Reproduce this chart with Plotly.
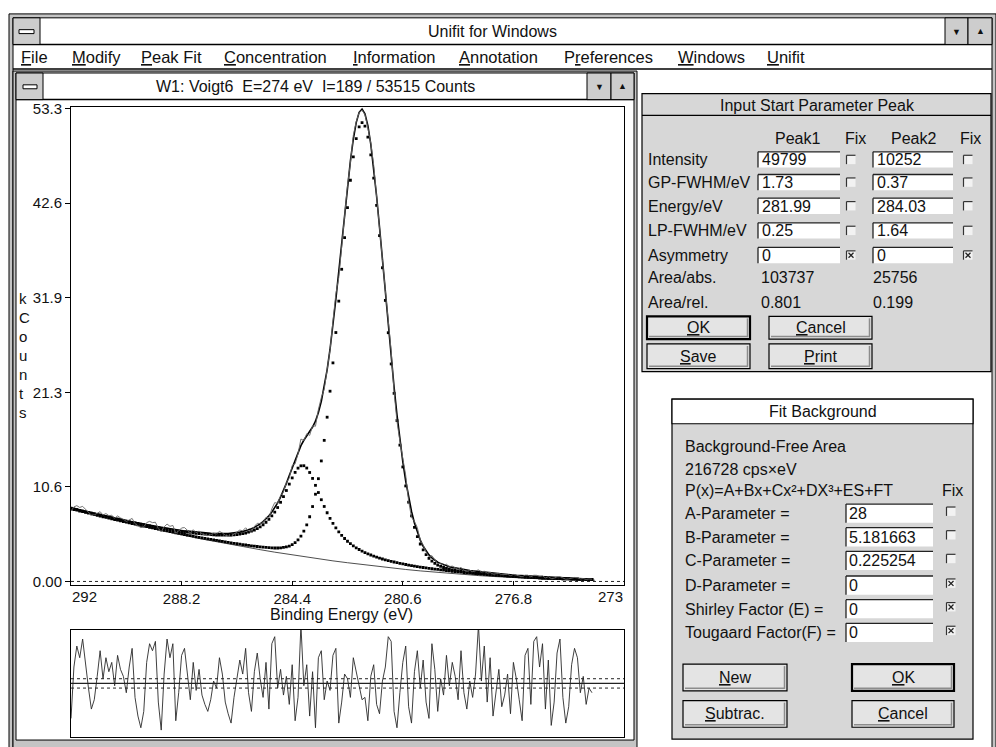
import plotly.graph_objects as go

W, H = 996, 747
FONT = "Liberation Sans"
DLG = "#d7d7d7"
BTN = "#e4e4e4"
CHROME = "#c4c4c4"

# ---------------- data (kcounts) ----------------
energy_ev = [
    292.0, 291.9, 291.8, 291.7, 291.6, 291.5, 291.4, 291.3, 291.2, 291.1,
    291.0, 290.9, 290.8, 290.7, 290.6, 290.5, 290.4, 290.3, 290.2, 290.1,
    290.0, 289.9, 289.8, 289.7, 289.6, 289.5, 289.4, 289.3, 289.2, 289.1,
    289.0, 288.9, 288.8, 288.7, 288.6, 288.5, 288.4, 288.3, 288.2, 288.1,
    288.0, 287.9, 287.8, 287.7, 287.6, 287.5, 287.4, 287.3, 287.2, 287.1,
    287.0, 286.9, 286.8, 286.7, 286.6, 286.5, 286.4, 286.3, 286.2, 286.1,
    286.0, 285.9, 285.8, 285.7, 285.6, 285.5, 285.4, 285.3, 285.2, 285.1,
    285.0, 284.9, 284.8, 284.7, 284.6, 284.5, 284.4, 284.3, 284.2, 284.1,
    284.0, 283.9, 283.8, 283.7, 283.6, 283.5, 283.4, 283.3, 283.2, 283.1,
    283.0, 282.9, 282.8, 282.7, 282.6, 282.5, 282.4, 282.3, 282.2, 282.1,
    282.0, 281.9, 281.8, 281.7, 281.6, 281.5, 281.4, 281.3, 281.2, 281.1,
    281.0, 280.9, 280.8, 280.7, 280.6, 280.5, 280.4, 280.3, 280.2, 280.1,
    280.0, 279.9, 279.8, 279.7, 279.6, 279.5, 279.4, 279.3, 279.2, 279.1,
    279.0, 278.9, 278.8, 278.7, 278.6, 278.5, 278.4, 278.3, 278.2, 278.1,
    278.0, 277.9, 277.8, 277.7, 277.6, 277.5, 277.4, 277.3, 277.2, 277.1,
    277.0, 276.9, 276.8, 276.7, 276.6, 276.5, 276.4, 276.3, 276.2, 276.1,
    276.0, 275.9, 275.8, 275.7, 275.6, 275.5, 275.4, 275.3, 275.2, 275.1,
    275.0, 274.9, 274.8, 274.7, 274.6, 274.5, 274.4, 274.3, 274.2, 274.1,
]

measured_kcounts = [
    7.93, 8.40, 8.54, 8.34, 8.46, 8.10, 7.77, 7.47, 7.50, 7.67,
    7.86, 7.49, 7.65, 7.42, 7.45, 7.13, 7.38, 7.16, 7.01, 6.76,
    6.97, 7.10, 6.51, 6.24, 6.06, 6.16, 6.63, 6.77, 6.63, 6.67,
    5.96, 5.60, 6.14, 6.47, 6.21, 6.31, 5.43, 5.68, 6.03, 6.07,
    5.77, 5.46, 5.83, 5.49, 5.68, 5.37, 5.26, 5.16, 5.26, 5.44,
    5.35, 5.64, 5.47, 5.21, 5.12, 5.05, 5.33, 5.55, 5.79, 5.71,
    6.05, 5.72, 5.67, 6.20, 6.55, 6.53, 6.61, 7.23, 7.15, 8.19,
    8.89, 8.80, 9.69, 10.09, 11.14, 11.66, 13.07, 13.25, 14.39, 16.05,
    15.88, 16.65, 16.46, 17.55, 17.49, 19.37, 20.71, 21.67, 23.88, 26.08,
    29.32, 32.40, 34.25, 37.87, 41.60, 44.63, 47.16, 50.28, 51.79, 52.84,
    53.12, 52.61, 51.12, 49.40, 46.90, 43.05, 39.40, 36.29, 32.79, 29.62,
    25.97, 21.42, 18.03, 15.82, 13.85, 11.96, 9.06, 7.21, 6.78, 6.07,
    4.63, 4.11, 3.30, 2.77, 2.91, 2.47, 1.99, 2.04, 1.80, 1.94,
    1.66, 1.73, 1.57, 1.35, 1.60, 1.27, 1.12, 1.26, 1.10, 1.21,
    1.30, 1.08, 1.15, 0.93, 1.04, 0.82, 0.87, 0.91, 0.76, 0.76,
    0.80, 0.65, 0.79, 0.71, 0.62, 0.52, 0.71, 0.71, 0.51, 0.70,
    0.69, 0.57, 0.63, 0.40, 0.54, 0.32, 0.37, 0.52, 0.54, 0.35,
    0.25, 0.29, 0.41, 0.45, 0.41, 0.29, 0.33, 0.23, 0.28, 0.25,
]

envelope_kcounts = [
    8.30, 8.22, 8.14, 8.06, 7.98, 7.90, 7.82, 7.74, 7.67, 7.59,
    7.51, 7.44, 7.37, 7.29, 7.22, 7.15, 7.08, 7.01, 6.93, 6.86,
    6.79, 6.72, 6.66, 6.59, 6.53, 6.46, 6.40, 6.34, 6.28, 6.22,
    6.16, 6.10, 6.04, 5.99, 5.93, 5.88, 5.83, 5.78, 5.73, 5.69,
    5.67, 5.63, 5.60, 5.56, 5.53, 5.49, 5.48, 5.46, 5.43, 5.41,
    5.39, 5.39, 5.38, 5.39, 5.41, 5.43, 5.46, 5.50, 5.56, 5.62,
    5.71, 5.81, 5.94, 6.09, 6.26, 6.48, 6.74, 7.03, 7.40, 7.81,
    8.29, 8.86, 9.51, 10.24, 11.05, 11.93, 12.83, 13.73, 14.57, 15.30,
    15.91, 16.41, 16.88, 17.40, 18.06, 19.04, 20.29, 21.88, 23.85, 26.17,
    28.84, 31.80, 34.93, 38.19, 41.44, 44.55, 47.40, 49.84, 51.71, 52.87,
    53.22, 52.70, 51.36, 49.28, 46.58, 43.41, 39.92, 36.25, 32.51, 28.82,
    25.25, 21.90, 18.79, 15.98, 13.49, 11.32, 9.46, 7.89, 6.58, 5.51,
    4.66, 3.96, 3.42, 2.99, 2.65, 2.38, 2.17, 2.01, 1.87, 1.76,
    1.67, 1.59, 1.52, 1.45, 1.39, 1.33, 1.28, 1.24, 1.19, 1.15,
    1.11, 1.07, 1.03, 0.99, 0.96, 0.92, 0.89, 0.86, 0.83, 0.80,
    0.77, 0.75, 0.72, 0.69, 0.67, 0.64, 0.62, 0.60, 0.58, 0.56,
    0.54, 0.52, 0.50, 0.48, 0.46, 0.45, 0.43, 0.42, 0.40, 0.39,
    0.38, 0.36, 0.35, 0.34, 0.33, 0.32, 0.31, 0.30, 0.29, 0.28,
]

peak1_kcounts = [  # peak 1 on top of background
    8.19, 8.11, 8.03, 7.94, 7.86, 7.78, 7.70, 7.62, 7.53, 7.45,
    7.37, 7.29, 7.21, 7.14, 7.06, 6.98, 6.90, 6.83, 6.75, 6.68,
    6.60, 6.53, 6.46, 6.38, 6.31, 6.24, 6.17, 6.10, 6.03, 5.96,
    5.89, 5.82, 5.75, 5.69, 5.62, 5.55, 5.48, 5.42, 5.35, 5.29,
    5.22, 5.16, 5.10, 5.03, 4.97, 4.91, 4.85, 4.79, 4.74, 4.68,
    4.62, 4.57, 4.51, 4.46, 4.40, 4.35, 4.30, 4.25, 4.21, 4.16,
    4.11, 4.06, 4.02, 3.98, 3.94, 3.90, 3.87, 3.83, 3.81, 3.79,
    3.77, 3.77, 3.79, 3.83, 3.89, 3.99, 4.15, 4.38, 4.68, 5.10,
    5.66, 6.38, 7.29, 8.44, 9.83, 11.58, 13.58, 15.90, 18.51, 21.44,
    24.63, 28.05, 31.59, 35.18, 38.75, 42.13, 45.21, 47.85, 49.90, 51.22,
    51.70, 51.31, 50.07, 48.08, 45.46, 42.38, 38.96, 35.35, 31.67, 28.03,
    24.51, 21.20, 18.13, 15.36, 12.90, 10.76, 8.93, 7.39, 6.10, 5.05,
    4.22, 3.55, 3.02, 2.61, 2.29, 2.04, 1.84, 1.69, 1.57, 1.47,
    1.38, 1.31, 1.25, 1.20, 1.15, 1.10, 1.06, 1.02, 0.98, 0.95,
    0.91, 0.88, 0.85, 0.81, 0.78, 0.75, 0.73, 0.70, 0.68, 0.65,
    0.62, 0.60, 0.58, 0.56, 0.54, 0.51, 0.50, 0.48, 0.46, 0.44,
    0.42, 0.41, 0.39, 0.38, 0.36, 0.35, 0.33, 0.32, 0.31, 0.30,
    0.29, 0.28, 0.27, 0.26, 0.25, 0.24, 0.23, 0.22, 0.22, 0.21,
]

peak2_kcounts = [  # peak 2 on top of background
    8.26, 8.18, 8.10, 8.01, 7.93, 7.85, 7.77, 7.69, 7.62, 7.54,
    7.46, 7.39, 7.31, 7.24, 7.16, 7.09, 7.02, 6.95, 6.87, 6.80,
    6.73, 6.66, 6.59, 6.53, 6.46, 6.39, 6.33, 6.26, 6.20, 6.13,
    6.07, 6.01, 5.95, 5.90, 5.84, 5.78, 5.73, 5.68, 5.63, 5.58,
    5.56, 5.52, 5.48, 5.43, 5.39, 5.35, 5.33, 5.31, 5.28, 5.26,
    5.23, 5.22, 5.21, 5.21, 5.22, 5.23, 5.25, 5.28, 5.33, 5.38,
    5.46, 5.55, 5.66, 5.80, 5.96, 6.16, 6.39, 6.67, 7.00, 7.38,
    7.82, 8.33, 8.92, 9.56, 10.25, 10.97, 11.67, 12.29, 12.77, 13.03,
    13.04, 12.78, 12.28, 11.61, 10.83, 10.02, 9.21, 8.45, 7.74, 7.11,
    6.54, 6.03, 5.59, 5.19, 4.84, 4.53, 4.26, 4.01, 3.79, 3.60,
    3.42, 3.25, 3.10, 2.98, 2.85, 2.74, 2.63, 2.53, 2.44, 2.35,
    2.26, 2.19, 2.11, 2.04, 1.97, 1.91, 1.85, 1.79, 1.73, 1.68,
    1.62, 1.57, 1.52, 1.48, 1.43, 1.39, 1.35, 1.31, 1.27, 1.23,
    1.19, 1.15, 1.12, 1.08, 1.04, 1.01, 0.98, 0.95, 0.92, 0.89,
    0.86, 0.83, 0.80, 0.78, 0.75, 0.73, 0.70, 0.68, 0.66, 0.63,
    0.61, 0.59, 0.57, 0.55, 0.53, 0.51, 0.49, 0.47, 0.46, 0.44,
    0.42, 0.40, 0.39, 0.38, 0.36, 0.35, 0.33, 0.32, 0.31, 0.30,
    0.29, 0.28, 0.27, 0.26, 0.25, 0.24, 0.24, 0.23, 0.22, 0.22,
]

background_energy_ev = [
    292.0, 291.5, 291.0, 290.5, 290.0, 289.5, 289.0, 288.5, 288.0, 287.5,
    287.0, 286.5, 286.0, 285.5, 285.0, 284.5, 284.0, 283.5, 283.0, 282.5,
    282.0, 281.5, 281.0, 280.5, 280.0, 279.5, 279.0, 278.5, 278.0, 277.5,
    277.0, 276.5, 276.0, 275.5, 275.0, 274.5, 274.0,
]
background_kcounts = [
    8.15, 7.73, 7.32, 6.93, 6.54, 6.17, 5.80, 5.45, 5.11, 4.78,
    4.46, 4.16, 3.86, 3.58, 3.30, 3.04, 2.79, 2.55, 2.32, 2.11,
    1.90, 1.71, 1.52, 1.35, 1.19, 1.04, 0.90, 0.78, 0.66, 0.56,
    0.46, 0.38, 0.31, 0.25, 0.20, 0.17, 0.14,
]

residual_norm = [
    -0.75, 0.35, 0.80, 0.55, 0.95, 0.40, -0.10, -0.55, -0.35, 0.15,
    0.70, 0.10, 0.55, 0.25, 0.45, -0.05, 0.60, 0.30, 0.15, -0.20,
    0.35, 0.75, -0.30, -0.70, -0.95, -0.60, 0.45, 0.85, 0.70, 0.90,
    -0.40, -1.00, 0.20, 0.95, 0.55, 0.85, -0.80, -0.20, 0.60, 0.75,
    0.20, -0.35, 0.45, -0.15, 0.30, -0.25, -0.45, -0.60, -0.35, 0.05,
    -0.10, 0.55, 0.20, -0.40, -0.65, -0.85, -0.30, 0.10, 0.50, 0.20,
    0.75, -0.20, -0.60, 0.25, 0.65, 0.10, -0.30, 0.45, -0.55, 0.85,
    1.00, -0.10, 0.30, -0.25, 0.15, -0.45, 0.40, -0.80, -0.30, 1.25,
    -0.05, 0.40, -0.70, 0.25, -0.95, 0.55, 0.70, -0.35, 0.05, -0.15,
    0.60, 0.75, -0.85, -0.40, 0.20, 0.10, -0.30, 0.55, 0.25, -0.10,
    -0.35, -0.30, -0.80, 0.15, 0.40, -0.45, -0.65, 0.05, 0.35, 1.00,
    0.90, -0.60, -0.95, -0.20, 0.45, 0.80, -0.50, -0.85, 0.25, 0.70,
    -0.10, 0.50, -0.40, -0.75, 0.85, 0.30, -0.60, 0.10, -0.25, 0.60,
    -0.05, 0.45, 0.15, -0.35, 0.70, -0.20, -0.55, 0.05, -0.30, 0.20,
    1.25, 0.05, 0.80, -0.40, 0.55, -0.70, -0.15, 0.30, -0.50, -0.25,
    0.20, -0.65, 0.45, 0.10, -0.35, -0.80, 0.60, 0.75, -0.45, 0.90,
    1.00, 0.35, 0.85, -0.55, 0.50, -0.90, -0.40, 0.65, 0.95, -0.30,
    -0.85, -0.50, 0.40, 0.75, 0.55, -0.20, 0.15, -0.45, -0.10, -0.20,
]

y_tick_values = [0, 10.66, 21.32, 31.98, 42.64, 53.3]
y_tick_labels = ["0.00", "10.6", "21.3", "31.9", "42.6", "53.3"]
x_tick_values = [288.2, 284.4, 280.6, 276.8]
x_tick_labels = ["288.2", "284.4", "280.6", "276.8"]
x_end_values = [292, 273]
x_end_labels = ["292", "273"]

menu_labels = ["<u>F</u>ile", "<u>M</u>odify", "<u>P</u>eak Fit", "<u>C</u>oncentration",
               "<u>I</u>nformation", "<u>A</u>nnotation", "P<u>r</u>eferences",
               "<u>W</u>indows", "<u>U</u>nifit"]

peak_param_labels = ["Intensity", "GP-FWHM/eV", "Energy/eV", "LP-FWHM/eV", "Asymmetry"]
peak1_inputs = ["49799", "1.73", "281.99", "0.25", "0"]
peak2_inputs = ["10252", "0.37", "284.03", "1.64", "0"]
peak_fixed = [False, False, False, False, True]
area_labels = ["Area/abs.", "Area/rel."]
peak1_area = ["103737", "0.801"]
peak2_area = ["25756", "0.199"]

bg_info_lines = ["Background-Free Area", "216728 cps\u00d7eV", "P(x)=A+Bx+Cx\u00b2+DX\u00b3+ES+FT"]
bg_param_labels = ["A-Parameter =", "B-Parameter =", "C-Parameter =", "D-Parameter =",
                   "Shirley Factor (E) =", "Tougaard Factor(F) ="]
bg_param_values = ["28", "5.181663", "0.225254", "0", "0", "0"]
bg_param_fixed = [False, False, False, True, True, True]

# ---------------- helpers (pixel -> paper) ----------------
def px(x):
    return x / W


def py(y):
    return 1 - y / H


shapes = []
annotations = []


def rect(x0, y0, x1, y1, fill=None, line="black", lw=1.0, layer="below"):
    shapes.append(dict(type="rect", xref="paper", yref="paper",
                       x0=px(x0), x1=px(x1), y0=py(y1), y1=py(y0),
                       fillcolor=fill if fill else "rgba(0,0,0,0)",
                       line=dict(color=line, width=lw), layer=layer))


def seg(x0, y0, x1, y1, color="black", lw=1.0, dash="solid", layer="below"):
    shapes.append(dict(type="line", xref="paper", yref="paper",
                       x0=px(x0), x1=px(x1), y0=py(y0), y1=py(y1),
                       line=dict(color=color, width=lw, dash=dash), layer=layer))


def text(x, y, s, size=16, anchor="left", color="#111111"):
    annotations.append(dict(xref="paper", yref="paper", x=px(x), y=py(y), text=s,
                            showarrow=False, xanchor=anchor, yanchor="middle",
                            borderpad=0,
                            font=dict(size=size, color=color, family=FONT)))


def input_box(x0, x1, yc, h=16):
    rect(x0, yc - h / 2, x1, yc + h / 2, fill="white", line="white", lw=0)
    seg(x0, yc - h / 2, x1, yc - h / 2, color="#222222", lw=1.3)
    seg(x0, yc - h / 2, x0, yc + h / 2, color="#222222", lw=1.3)


def checkbox(xc, yc, checked):
    s = 4.5
    rect(xc - s, yc - s, xc + s, yc + s, fill="#f2f2f2", line="#f2f2f2", lw=0)
    seg(xc - s, yc - s, xc + s, yc - s, color="#333333", lw=1.2)
    seg(xc - s, yc - s, xc - s, yc + s, color="#333333", lw=1.2)
    if checked:
        seg(xc - 2.5, yc - 2.5, xc + 2.5, yc + 2.5, color="#222222", lw=1.3)
        seg(xc - 2.5, yc + 2.5, xc + 2.5, yc - 2.5, color="#222222", lw=1.3)


def button(x0, y0, x1, y1, label, default=False):
    rect(x0, y0, x1, y1, fill=BTN, line="black", lw=2.2 if default else 1.2)
    seg(x0 + 2, y1 - 2.5, x1 - 2, y1 - 2.5, color="#8c8c8c", lw=1.5)
    seg(x1 - 2.5, y0 + 2, x1 - 2.5, y1 - 2, color="#8c8c8c", lw=1.5)
    text((x0 + x1) / 2, (y0 + y1) / 2, label, 16, "center")


def sysbox(x0, y0, x1, y1):
    rect(x0, y0, x1, y1, fill="#cdcdcd", line="black", lw=1)


# ---------------- application chrome ----------------
rect(9, 7, 996, 762, fill=CHROME, line="black", lw=1)
rect(13, 11, 992, 762, fill="white", line="black", lw=1)
seg(13, 38, 992, 38, lw=1.5)
sysbox(13, 11, 40, 38)
rect(19, 23, 34, 27, fill="white", line="black", lw=1)
sysbox(945, 11, 968, 38)
sysbox(968, 11, 992, 38)
text(956.5, 25, "\u25bc", 9, "center")
text(980, 24, "\u25b2", 9, "center")
text(492, 25, "Unifit for Windows", 16, "center")

menu_x = [20, 71, 140, 223, 352, 458, 563, 677, 766]
for mx, lab in zip(menu_x, menu_labels):
    text(mx, 51, lab, 16.5)
seg(13, 63, 992, 63, lw=1.5)

# W1 document window
rect(13, 65, 637, 752, fill=CHROME, line="black", lw=1)
rect(16, 67, 634, 744, fill="white", line="black", lw=1)
seg(16, 94, 634, 94, lw=1.5)
sysbox(16, 67, 43, 94)
rect(23, 79, 37, 83, fill="white", line="black", lw=1)
sysbox(587, 67, 611, 94)
sysbox(611, 67, 634, 94)
text(599, 81, "\u25bc", 9, "center")
text(622.5, 80, "\u25b2", 9, "center")
text(315, 81, "W1: Voigt6\u00a0\u00a0E=274 eV\u00a0\u00a0I=189 / 53515 Counts", 16, "center")

# ---------------- dialog 1 : Input Start Parameter Peak ----------------
rect(642, 88, 991, 370, fill=DLG, line="black", lw=1.2)
seg(642, 110, 991, 110, lw=1.2)
text(817, 100, "Input Start Parameter Peak", 16, "center")
text(797, 133, "Peak1", 16, "center")
text(855, 133, "Fix", 16, "center")
text(913, 133, "Peak2", 16, "center")
text(970, 133, "Fix", 16, "center")
row_y = [155, 178, 202, 227, 252]
for yy, lab, v1, v2, fx in zip(row_y, peak_param_labels, peak1_inputs, peak2_inputs, peak_fixed):
    text(647, yy, lab, 16)
    input_box(758, 840, yy)
    input_box(873, 953, yy)
    text(761, yy, v1, 16)
    text(876, yy, v2, 16)
    checkbox(851, yy, fx)
    checkbox(968, yy, fx)
for yy, lab, a1, a2 in zip([275, 300], area_labels, peak1_area, peak2_area):
    text(647, yy, lab, 16)
    text(760, yy, a1, 16)
    text(872, yy, a2, 16)
button(647, 314, 750, 337, "<u>O</u>K", default=True)
button(769, 314, 872, 337, "<u>C</u>ancel")
button(647, 342, 750, 367, "<u>S</u>ave")
button(769, 342, 872, 367, "<u>P</u>rint")

# ---------------- dialog 2 : Fit Background ----------------
rect(672, 398, 973, 743, fill=DLG, line="black", lw=1.2)
rect(672, 398, 973, 423, fill="white", line="black", lw=1.2)
text(823, 411, "Fit Background", 16, "center")
for yy, s in zip([446, 469, 491], bg_info_lines):
    text(684, yy, s, 16)
text(952, 491, "Fix", 16, "center")
bg_row_y = [514, 538, 562, 587, 611, 635]
for yy, lab, val, fx in zip(bg_row_y, bg_param_labels, bg_param_values, bg_param_fixed):
    text(684, yy, lab, 16)
    input_box(846, 933, yy, h=19)
    text(848, yy, val, 16)
    checkbox(951, yy - 2, fx)
button(683, 667, 787, 694, "<u>N</u>ew")
button(852, 667, 954, 694, "<u>O</u>K", default=True)
button(683, 704, 787, 731, "<u>S</u>ubtrac.")
button(852, 704, 954, 731, "<u>C</u>ancel")

# ---------------- plot decorations ----------------
for j, ch in enumerate("kCounts"):
    text(18, 296 + 19.3 * j, ch, 15)
text(341, 617, "Binding Energy (eV)", 16, "center")
for xv, lab, anc in zip(x_end_values, x_end_labels, ["left", "right"]):
    annotations.append(dict(xref="x", yref="paper", x=xv, y=py(598), text=lab,
                            showarrow=False, xanchor=anc, yanchor="middle", borderpad=0,
                            font=dict(size=15, color="#111111", family=FONT)))

# zero dotted line (main), zero + dotted band (residual)
shapes.append(dict(type="line", xref="x domain", yref="y", x0=0, x1=1, y0=0, y1=0,
                   line=dict(color="#222222", width=1, dash="dot")))
shapes.append(dict(type="line", xref="x2 domain", yref="y2", x0=0, x1=1, y0=0, y1=0,
                   line=dict(color="#222222", width=1.3)))
for yv in (-0.1, 0.1):
    shapes.append(dict(type="line", xref="x2 domain", yref="y2", x0=0, x1=1, y0=yv, y1=yv,
                       line=dict(color="#222222", width=1, dash="dot")))

# ---------------- traces ----------------
fig = go.Figure()
fig.add_trace(go.Scatter(x=background_energy_ev, y=background_kcounts, mode="lines",
                         line=dict(color="#3a3a3a", width=0.9), xaxis="x", yaxis="y"))
fig.add_trace(go.Scatter(x=energy_ev, y=peak1_kcounts, mode="markers",
                         marker=dict(size=2.8, color="black", symbol="square"),
                         xaxis="x", yaxis="y"))
fig.add_trace(go.Scatter(x=energy_ev, y=peak2_kcounts, mode="markers",
                         marker=dict(size=2.8, color="black", symbol="square"),
                         xaxis="x", yaxis="y"))
fig.add_trace(go.Scatter(x=energy_ev, y=envelope_kcounts, mode="lines",
                         line=dict(color="black", width=1.6), xaxis="x", yaxis="y"))
fig.add_trace(go.Scatter(x=energy_ev, y=measured_kcounts, mode="lines",
                         line=dict(color="#666666", width=0.9), xaxis="x", yaxis="y"))
fig.add_trace(go.Scatter(x=energy_ev, y=residual_norm, mode="lines",
                         line=dict(color="#2a2a2a", width=0.9), xaxis="x2", yaxis="y2"))

axis_common = dict(showgrid=False, zeroline=False, showline=True, mirror=True,
                   linecolor="black", linewidth=1)
fig.update_layout(
    width=W, height=H, autosize=False,
    margin=dict(l=0, r=0, t=0, b=0),
    paper_bgcolor="white", plot_bgcolor="white",
    showlegend=False, hovermode=False,
    font=dict(family=FONT, color="#111111"),
    xaxis=dict(domain=[px(71), px(624)], range=[292, 273], anchor="y",
               ticks="inside", ticklen=4, tickcolor="black",
               tickvals=x_tick_values, ticktext=x_tick_labels,
               tickfont=dict(size=15, color="#111111", family=FONT), **axis_common),
    yaxis=dict(domain=[py(587), py(101)], range=[-0.44, 53.52], anchor="x",
               ticks="outside", ticklen=5, tickcolor="black",
               tickvals=y_tick_values, ticktext=y_tick_labels,
               tickfont=dict(size=15, color="#111111", family=FONT), **axis_common),
    xaxis2=dict(domain=[px(71), px(624)], range=[292, 273], anchor="y2",
                showticklabels=False, ticks="", **axis_common),
    yaxis2=dict(domain=[py(741), py(632)], range=[-1.15, 1.15], anchor="x2",
                showticklabels=False, ticks="", **axis_common),
    shapes=shapes, annotations=annotations,
)

fig.write_html("out.html")
